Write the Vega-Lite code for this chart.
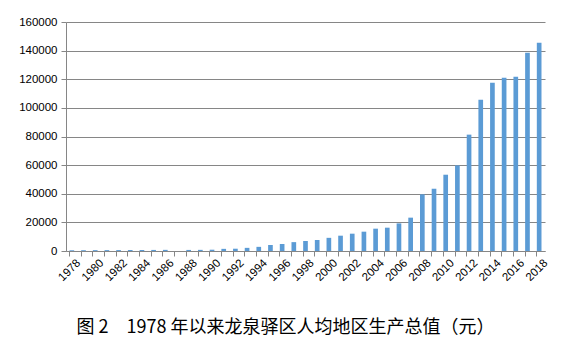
{
  "$schema": "https://vega.github.io/schema/vega-lite/v6.json",
  "width": 479,
  "height": 229,
  "autosize": {"type": "none"},
  "padding": {"left": 66, "top": 22, "right": 20, "bottom": 100},
  "background": "white",
  "title": {
    "text": "图 2　1978 年以来龙泉驿区人均地区生产总值（元）",
    "orient": "bottom",
    "anchor": "middle",
    "frame": "group",
    "font": "Noto Sans CJK SC",
    "fontSize": 18,
    "fontWeight": "normal",
    "color": "#000000",
    "offset": 36,
    "dx": -20
  },
  "data": {
    "values": [
      {"year": "1978", "value": 500},
      {"year": "1979", "value": 550},
      {"year": "1980", "value": 600},
      {"year": "1981", "value": 620},
      {"year": "1982", "value": 650},
      {"year": "1983", "value": 680},
      {"year": "1984", "value": 700},
      {"year": "1985", "value": 750},
      {"year": "1986", "value": 800},
      {"year": "1987", "value": 0},
      {"year": "1988", "value": 750},
      {"year": "1989", "value": 800},
      {"year": "1990", "value": 900},
      {"year": "1991", "value": 1500},
      {"year": "1992", "value": 1600},
      {"year": "1993", "value": 2200},
      {"year": "1994", "value": 2900},
      {"year": "1995", "value": 4200},
      {"year": "1996", "value": 4900},
      {"year": "1997", "value": 6200},
      {"year": "1998", "value": 7000},
      {"year": "1999", "value": 7700},
      {"year": "2000", "value": 9200},
      {"year": "2001", "value": 10700},
      {"year": "2002", "value": 12100},
      {"year": "2003", "value": 13500},
      {"year": "2004", "value": 15600},
      {"year": "2005", "value": 16300},
      {"year": "2006", "value": 19300},
      {"year": "2007", "value": 23300},
      {"year": "2008", "value": 39600},
      {"year": "2009", "value": 43500},
      {"year": "2010", "value": 53300},
      {"year": "2011", "value": 59800},
      {"year": "2012", "value": 81300},
      {"year": "2013", "value": 105700},
      {"year": "2014", "value": 117600},
      {"year": "2015", "value": 121100},
      {"year": "2016", "value": 121800},
      {"year": "2017", "value": 138600},
      {"year": "2018", "value": 145500}
    ]
  },
  "mark": {"type": "bar", "color": "#5B9BD5"},
  "encoding": {
    "x": {
      "field": "year",
      "type": "ordinal",
      "sort": null,
      "scale": {"paddingInner": 0.6, "paddingOuter": 0.3},
      "axis": {
        "title": null,
        "bandPosition": 0,
        "labelOffset": 7,
        "labelAngle": -45,
        "labelAlign": "right",
        "labelBaseline": "middle",
        "labelExpr": "toNumber(datum.value) % 2 == 0 ? datum.value : ''",
        "labelFont": "Liberation Sans",
        "labelFontSize": 11.5,
        "labelColor": "#000000",
        "labelPadding": 5,
        "domainColor": "#868686",
        "tickColor": "#868686",
        "tickSize": 5,
        "grid": false
      }
    },
    "y": {
      "field": "value",
      "type": "quantitative",
      "scale": {"domain": [0, 160000], "nice": false},
      "axis": {
        "title": null,
        "values": [0, 20000, 40000, 60000, 80000, 100000, 120000, 140000, 160000],
        "format": "d",
        "labelFont": "Liberation Sans",
        "labelFontSize": 11.5,
        "labelColor": "#000000",
        "labelPadding": 4,
        "domainColor": "#868686",
        "tickColor": "#868686",
        "tickSize": 5,
        "gridColor": "#868686",
        "gridWidth": 1,
        "gridOpacity": 1
      }
    }
  },
  "config": {"view": {"stroke": null}}
}
